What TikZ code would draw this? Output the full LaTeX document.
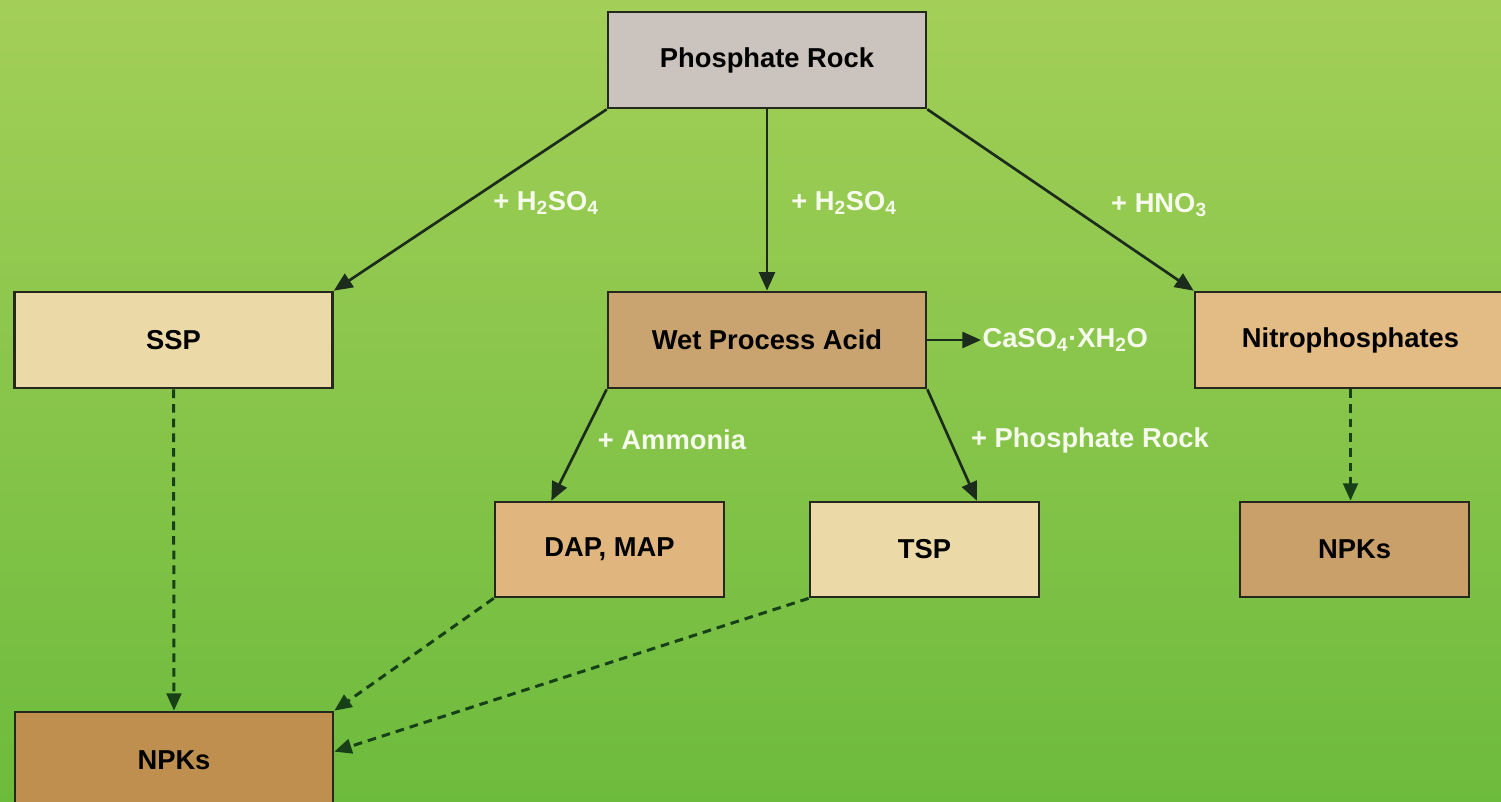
\documentclass[tikz,border=0pt]{standalone}
\usepackage{fontspec}
\setmainfont{Liberation Sans}
\usetikzlibrary{arrows.meta}

\definecolor{bgtop}{RGB}{163,207,88}
\definecolor{bgbottom}{RGB}{109,187,61}
\definecolor{boxline}{RGB}{38,40,30}
\definecolor{linedark}{RGB}{28,44,28}
\definecolor{dashgreen}{RGB}{24,64,24}
\definecolor{rockfill}{RGB}{203,195,189}
\definecolor{paleoat}{RGB}{236,217,168}
\definecolor{wetfill}{RGB}{201,164,112}
\definecolor{nitrofill}{RGB}{227,187,133}
\definecolor{dapfill}{RGB}{224,182,126}
\definecolor{npkfill}{RGB}{201,160,106}
\definecolor{npkdark}{RGB}{191,143,80}
\definecolor{labelwhite}{RGB}{246,250,236}

\tikzset{every picture/.style={line width=0.75pt}}
\tikzset{
  box/.style={draw=boxline, line width=2pt, inner sep=0pt, minimum height=72pt,
    font=\bfseries\fontsize{20.5}{24}\selectfont, text=black},
  bigbox/.style={box, minimum width=238.5pt},
  smallbox/.style={box, minimum width=171.75pt, minimum height=71.25pt},
  addlabel/.style={inner sep=0.75pt, text=labelwhite, font=\bfseries\fontsize{20.5}{24}\selectfont},
  feed/.style={draw=linedark, line width=2pt, -{Triangle[length=14pt,width=12pt]}},
  blend/.style={draw=dashgreen, line width=2.25pt, dash pattern=on 6.5pt off 4.5pt, -{Triangle[length=13pt,width=11pt]}}
}

\begin{document}
\begin{tikzpicture}[x=0.75pt,y=0.75pt,yscale=-1,xscale=1]
\useasboundingbox (0,0) rectangle (1501,801);
\clip (0,0) rectangle (1501,801);
%Background
\shade [top color=bgtop, bottom color=bgbottom] (0,0) rectangle (1501,801);

%Boxes
\node [bigbox, fill=rockfill] (rock) at (767,60) {Phosphate Rock};
\node [bigbox, fill=paleoat] (ssp) at (173.5,340) {SSP};
\node [bigbox, fill=wetfill] (wpa) at (767,340) {Wet Process Acid};
\node [bigbox, fill=nitrofill, minimum width=233.25pt] (nitro) at (1350.5,340) {Nitrophosphates};
\node [smallbox, fill=dapfill] (dap) at (609.5,549.5) {DAP, MAP};
\node [smallbox, fill=paleoat] (tsp) at (924.5,549.5) {TSP};
\node [smallbox, fill=npkfill] (npkr) at (1354.5,549.5) {NPKs};
\node [bigbox, fill=npkdark] (npkl) at (174,760) {NPKs};

% Text Node
\node [addlabel, anchor=west] (caso) at (981,340) {CaSO\textsubscript{4}·XH\textsubscript{2}O};
% Text Node
\node [addlabel] (acid1) at (546,203) {+ H\textsubscript{2}SO\textsubscript{4}};
% Text Node
\node [addlabel] (acid2) at (844,203) {+ H\textsubscript{2}SO\textsubscript{4}};
% Text Node
\node [addlabel] (nitric) at (1159,205) {+ HNO\textsubscript{3}};
% Text Node
\node [addlabel] (ammonia) at (672,440) {+ Ammonia};
% Text Node
\node [addlabel] (rockadd) at (1090,440) {+ Phosphate Rock};

%Solid arrows
\draw [feed] (rock.south west) -- (ssp.north east);
\draw [feed] (rock.south) -- (wpa.north);
\draw [feed] (rock.south east) -- (nitro.north west);
\draw [feed] (wpa.east) -- (caso.west);
\draw [feed] (wpa.south west) -- (dap.140);
\draw [feed] (wpa.south east) -- (tsp.43);

%Dashed arrows
\draw [blend] (ssp.south) -- (npkl.north);
\draw [blend] (dap.south west) -- (npkl.north east);
\draw [blend] (tsp.south west) -- (npkl.3);
\draw [blend] (nitro.south) -- (nitro.south |- npkr.north);

\end{tikzpicture}
\end{document}
